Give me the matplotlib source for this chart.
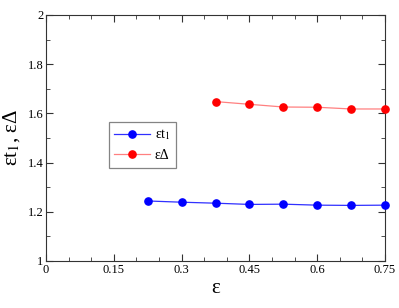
import matplotlib
matplotlib.use("Agg")
import matplotlib.pyplot as plt
from matplotlib.ticker import MultipleLocator

plt.rcParams['font.family'] = ['Liberation Serif', 'DejaVu Serif']
plt.rcParams['mathtext.fontset'] = 'stix'

# data
eps_t1 = [0.225, 0.3, 0.375, 0.45, 0.525, 0.6, 0.675, 0.75]
t1_vals = [1.244, 1.239, 1.235, 1.230, 1.231, 1.227, 1.226, 1.227]
eps_delta = [0.375, 0.45, 0.525, 0.6, 0.675, 0.75]
delta_vals = [1.648, 1.637, 1.626, 1.625, 1.618, 1.618]

xticks = [0, 0.15, 0.3, 0.45, 0.6, 0.75]
xtick_labels = ['0', '0.15', '0.3', '0.45', '0.6', '0.75']
yticks = [1, 1.2, 1.4, 1.6, 1.8, 2]
ytick_labels = ['1', '1.2', '1.4', '1.6', '1.8', '2']

fig = plt.figure(figsize=(3.99, 3.08), dpi=100)
ax = fig.add_axes([0.1153, 0.1526, 0.8497, 0.7987])

ax.plot(eps_t1, t1_vals, color='#3030ff', lw=0.9, marker='o', ms=5.2,
        mfc='blue', mec='blue', label=r'εt$_1$', clip_on=False, zorder=3)
ax.plot(eps_delta, delta_vals, color='#ff8080', lw=0.9, marker='o', ms=5.2,
        mfc='red', mec='red', label='εΔ', clip_on=False, zorder=3)

ax.set_xlim(0, 0.75)
ax.set_ylim(1, 2)
ax.set_xticks(xticks)
ax.set_xticklabels(xtick_labels)
ax.set_yticks(yticks)
ax.set_yticklabels(ytick_labels)
ax.xaxis.set_minor_locator(MultipleLocator(0.05))
ax.yaxis.set_minor_locator(MultipleLocator(0.1))
ax.tick_params(which='both', direction='in', top=True, right=True,
               labelsize=9, color='#333333', pad=2)
ax.tick_params(which='major', length=5)
ax.tick_params(which='minor', length=3)
for s in ax.spines.values():
    s.set_color('#333333')

ax.set_xlabel('ε', fontsize=15, labelpad=2)
ax.set_ylabel(r'εt$_1$, εΔ', fontsize=15, labelpad=4)

leg = ax.legend(loc='upper left', bbox_to_anchor=(0.185, 0.565), fontsize=10,
                frameon=True, fancybox=False, edgecolor='#666666',
                handlelength=2.6, handletextpad=0.3, borderpad=0.4,
                labelspacing=0.5, borderaxespad=0)
leg.get_frame().set_linewidth(0.9)

fig.savefig('out.png', dpi=100)
